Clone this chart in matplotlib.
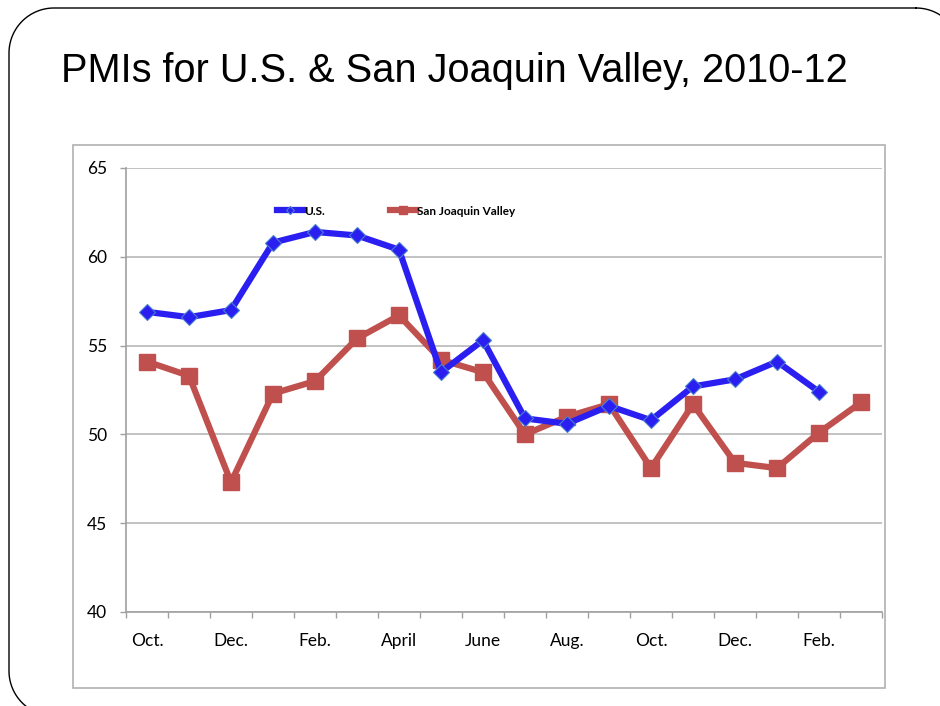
import matplotlib
matplotlib.use('Agg')
import numpy as np
import matplotlib.pyplot as plt
from matplotlib.patches import Rectangle

# values (Oct 2010 .. Mar 2012)
months = ['Oct.', 'Nov.', 'Dec.', 'Jan.', 'Feb.', 'Mar.', 'April', 'May', 'June',
          'July', 'Aug.', 'Sep.', 'Oct.', 'Nov.', 'Dec.', 'Jan.', 'Feb.', 'Mar.']
us = [56.9, 56.6, 57.0, 60.8, 61.4, 61.2, 60.4, 53.5, 55.3,
      50.9, 50.6, 51.6, 50.8, 52.7, 53.1, 54.1, 52.4]
sjv = [54.1, 53.3, 47.3, 52.3, 53.0, 55.4, 56.7, 54.2, 53.5,
       50.0, 51.0, 51.7, 48.1, 51.7, 48.4, 48.1, 50.1, 51.8]
yticks = [40, 45, 50, 55, 60, 65]

W, H = 940, 706
fig = plt.figure(figsize=(W / 100, H / 100), dpi=100)


def rounded_rect(x0, y0, x1, y1, r):
    # outline of a rounded rectangle in pixel units (y down)
    xs, ys = [], []
    for cx, cy, a0 in [(x1 - r, y0 + r, 270), (x1 - r, y1 - r, 0),
                       (x0 + r, y1 - r, 90), (x0 + r, y0 + r, 180)]:
        t = np.radians(np.linspace(a0, a0 + 90, 30))
        xs.extend(cx + r * np.cos(t))
        ys.extend(cy + r * np.sin(t))
    xs.append(xs[0])
    ys.append(ys[0])
    return xs, ys


# background layer in pixel units: slide frame, chart box, title
bg = fig.add_axes([0, 0, 1, 1], zorder=0)
bg.set_xlim(0, W)
bg.set_ylim(H, 0)
bg.axis('off')
fx, fy = rounded_rect(9, 8, 961, 716, 45)
bg.plot(fx, fy, color='black', lw=1.0)
bg.add_patch(Rectangle((73, 145), 812, 543, fill=False, ec='#b0b0b0', lw=1.2))
bg.text(61, 82, 'PMIs for U.S. & San Joaquin Valley, 2010-12', fontsize=28.6,
        family='Liberation Sans', ha='left', va='baseline', color='black')

ax = fig.add_axes([126 / W, 1 - 612 / H, (882 - 126) / W, (612 - 168) / H], zorder=1)
ax.patch.set_alpha(0)

x = list(range(len(months)))
ax.plot(x[:len(us)], us, color='#2a1ff0', lw=4.5, marker='D', ms=8.5,
        mfc='#2a1ff0', mec='#4a7fd0', mew=0.8, label='U.S.', zorder=3)
ax.plot(x, sjv, color='#c0504d', lw=4.5, marker='s', ms=11,
        mfc='#c0504d', mec='#c0504d', label='San Joaquin Valley', zorder=2)

ax.set_xlim(-0.5, len(months) - 0.5)
ax.set_ylim(40, 65)
ax.set_yticks(yticks)
ax.yaxis.grid(True, color='#b8b8b8', lw=1.2)
ax.set_axisbelow(True)

# category ticks between points, labels on every other month
ax.set_xticks([i - 0.5 for i in range(len(months) + 1)])
ax.set_xticklabels([])
ax.set_xticks(x[::2], minor=True)
ax.set_xticklabels(months[::2], minor=True)
ax.tick_params(axis='x', which='major', direction='out', length=4.5, color='#a0a0a0', width=1)
ax.tick_params(axis='x', which='minor', length=0, pad=15, labelsize=12.5)
ax.tick_params(axis='y', direction='out', length=4.5, color='#a0a0a0', width=1,
               pad=9, labelsize=12.5)
for lab in ax.get_xticklabels(minor=True) + ax.get_yticklabels():
    lab.set_family('Lato')

for s in ['top', 'right']:
    ax.spines[s].set_visible(False)
for s in ['left', 'bottom']:
    ax.spines[s].set_color('#a0a0a0')
    ax.spines[s].set_linewidth(1.2)

leg = ax.legend(loc='center', bbox_to_anchor=(0.357, 0.903), ncol=2, frameon=False,
                prop={'family': 'Lato', 'weight': 'bold', 'size': 8.5},
                handlelength=2.2, handletextpad=0.1, columnspacing=5.5, markerscale=0.5)

fig.savefig('out.png', dpi=100)
